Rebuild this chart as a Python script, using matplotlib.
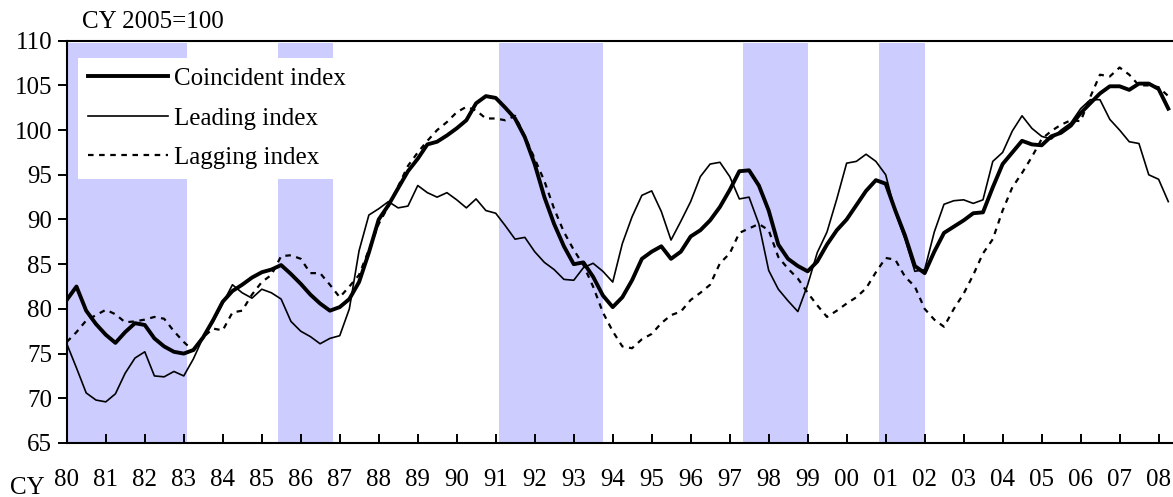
import matplotlib
matplotlib.use("Agg")
import matplotlib.pyplot as plt
import matplotlib.dates as mdates
import pandas as pd

# Japan composite indexes, CY 2005=100, quarterly readings (Jan/Apr/Jul/Oct)
coincident = [81.0, 82.5, 79.8, 78.3, 77.1, 76.2, 77.4, 78.4,
              78.2, 76.7, 75.8, 75.2, 75.0, 75.4, 76.8, 78.7,
              80.8, 82.0, 82.7, 83.5, 84.1, 84.4, 84.9, 83.9,
              82.8, 81.6, 80.6, 79.8, 80.2, 81.1, 83.0, 86.3,
              90.0, 91.6, 93.5, 95.4, 96.8, 98.4, 98.7, 99.4,
              100.2, 101.1, 103.0, 103.8, 103.6, 102.5, 101.3, 99.2,
              96.2, 92.5, 89.5, 87.0, 85.0, 85.2, 83.6, 81.5,
              80.2, 81.3, 83.2, 85.6, 86.4, 87.0, 85.6, 86.4,
              88.1, 88.8, 89.9, 91.4, 93.3, 95.4, 95.5, 93.8,
              91.0, 87.2, 85.6, 84.8, 84.2, 85.3, 87.2, 88.8,
              90.0, 91.6, 93.2, 94.4, 94.0, 91.0, 88.2, 84.8,
              84.0, 86.4, 88.5, 89.2, 89.9, 90.7, 90.8, 93.6,
              96.2, 97.5, 98.8, 98.4, 98.3, 99.3, 99.7, 100.5,
              101.9, 103.0, 104.1, 104.9, 104.9, 104.5, 105.2, 105.2,
              104.6, 102.4]
leading = [76.1, 73.4, 70.6, 69.8, 69.6, 70.5, 72.8, 74.5,
           75.2, 72.5, 72.4, 73.0, 72.5, 74.4, 76.8, 78.5,
           80.6, 82.7, 81.8, 81.2, 82.2, 81.8, 81.1, 78.6,
           77.5, 76.9, 76.1, 76.7, 77.0, 80.0, 86.5, 90.5,
           91.2, 92.0, 91.3, 91.5, 93.8, 93.0, 92.5, 93.0,
           92.2, 91.3, 92.3, 91.0, 90.7, 89.3, 87.8, 88.0,
           86.4, 85.2, 84.4, 83.3, 83.2, 84.6, 85.1, 84.2,
           83.0, 87.3, 90.3, 92.7, 93.2, 90.9, 87.7, 89.8,
           92.0, 94.8, 96.2, 96.4, 94.8, 92.3, 92.5, 89.5,
           84.3, 82.2, 80.9, 79.7, 82.7, 86.3, 88.6, 92.3,
           96.3, 96.5, 97.3, 96.5, 95.0, 90.8, 87.8, 84.2,
           84.4, 88.6, 91.7, 92.1, 92.2, 91.8, 92.2, 96.5,
           97.5, 99.9, 101.6, 100.2, 99.3, 99.0, 100.0, 100.8,
           102.4, 103.4, 103.4, 101.2, 100.0, 98.7, 98.5, 95.0,
           94.5, 92.0]
lagging = [76.3, 77.4, 78.7, 79.3, 79.9, 79.4, 78.5, 78.6,
           78.8, 79.1, 78.9, 77.5, 76.3, 75.3, 76.8, 77.8,
           77.6, 79.6, 79.8, 81.6, 83.0, 83.8, 85.9, 86.0,
           85.6, 84.0, 84.0, 82.7, 81.3, 82.5, 83.8, 86.6,
           89.5, 91.5, 93.7, 96.0, 97.5, 98.8, 100.0, 100.9,
           102.0, 102.6, 102.2, 101.3, 101.3, 101.1, 101.6, 99.3,
           96.8, 94.3, 91.2, 88.6, 86.6, 84.9, 82.5, 79.6,
           77.5, 75.8, 75.6, 76.6, 77.2, 78.4, 79.3, 79.7,
           81.0, 81.8, 82.7, 85.1, 86.2, 88.5, 89.0, 89.5,
           88.8, 85.8, 84.5, 83.4, 81.8, 80.4, 79.1, 79.8,
           80.6, 81.3, 82.3, 84.1, 85.7, 85.5, 83.6, 82.5,
           80.0, 78.8, 78.0, 80.0, 81.7, 83.8, 86.2, 87.8,
           91.0, 93.6, 95.2, 97.0, 99.0, 99.9, 100.6, 101.1,
           101.0, 103.7, 106.2, 106.0, 107.0, 106.2, 105.0, 105.0,
           104.8, 103.8]
dates = pd.date_range("1980-01-01", periods=len(coincident), freq="QS")

recessions = [("1980-01-01", "1983-02-01"), ("1985-06-01", "1986-11-01"),
              ("1991-02-01", "1993-10-01"), ("1997-05-01", "1999-01-01"),
              ("2000-11-01", "2002-01-01")]

plt.rcParams['font.family'] = ['Liberation Serif', 'DejaVu Serif']
plt.rcParams['font.size'] = 18

fig = plt.figure(figsize=(11.73, 4.97), dpi=100)
ax = fig.add_axes([0.0569, 0.1087, 0.9431, 0.8094])

for start, end in recessions:
    ax.axvspan(pd.Timestamp(start), pd.Timestamp(end), ymin=0, ymax=0.995,
               color='#ccccff', lw=0, zorder=0)

ax.plot(dates, coincident, color='black', lw=2.8, label='Coincident index', zorder=3)
ax.plot(dates, leading, color='black', lw=1.2, label='Leading index', zorder=2)
ax.plot(dates, lagging, color='black', lw=1.6, dashes=(2.5, 2.5), label='Lagging index', zorder=2)

ax.set_xlim(pd.Timestamp("1980-01-01"), pd.Timestamp("2008-05-15"))
ax.set_ylim(65, 110)
ax.set_yticks(range(65, 111, 5))
ax.xaxis.set_major_locator(mdates.YearLocator())
ax.xaxis.set_major_formatter(mdates.DateFormatter('%y'))

ax.tick_params(axis='x', direction='in', length=6.5, width=1.4, pad=19)
ax.tick_params(axis='y', direction='out', length=6.5, width=1.4, pad=4)
for side in ['left', 'bottom', 'top']:
    ax.spines[side].set_linewidth(1.5)
ax.spines['right'].set_visible(False)

leg = ax.legend(loc='upper left', bbox_to_anchor=(0.01, 0.958), borderaxespad=0,
                fancybox=False, framealpha=1, edgecolor='none', facecolor='white',
                handlelength=3.2, handletextpad=0.25, labelspacing=0.68, borderpad=0.4)
leg.set_zorder(5)

fig.text(82 / 1173, 1 - 22 / 497, 'CY 2005=100', va='center', ha='left')
fig.text(10 / 1173, 1 - 488 / 497, 'CY', va='center', ha='left')

fig.savefig('out.png', dpi=100)
